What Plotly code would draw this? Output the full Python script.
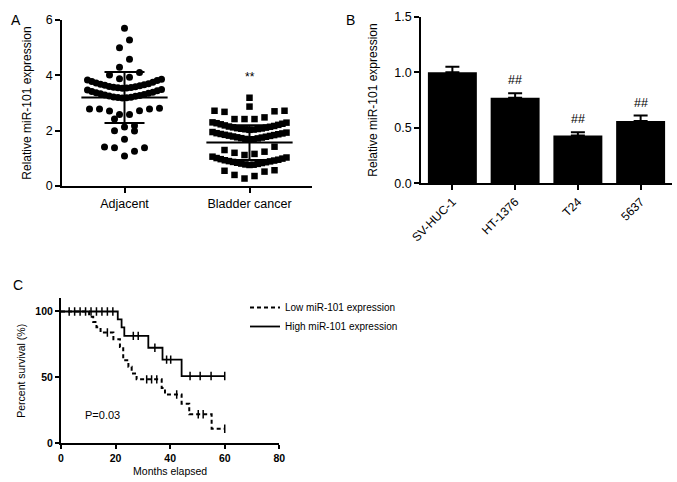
import numpy as np
import plotly.graph_objects as go

# ---------------- data ----------------
groups_A = ["Adjacent", "Bladder cancer"]
adjacent = [5.70, 5.28, 5.00, 4.58, 4.29, 4.10, 4.01, 3.93, 3.88,
            3.53, 3.54, 3.55, 3.56, 3.57, 3.59, 3.60, 3.62, 3.64, 3.66, 3.68, 3.70, 3.72, 3.75, 3.78, 3.81, 3.83, 3.86,
            3.18, 3.19, 3.20, 3.21, 3.22, 3.24, 3.25, 3.27, 3.29, 3.31, 3.33, 3.35, 3.37, 3.39, 3.42, 3.44, 3.47, 3.49,
            2.81, 2.78, 2.78, 2.78, 2.72, 2.71, 2.58, 2.58,
            2.42, 2.18, 2.13, 2.00, 1.99, 1.69,
            1.41, 1.38, 1.38, 1.26, 1.08]
bladder = [3.19, 2.87, 2.72, 2.72, 2.70, 2.68, 2.48, 2.42, 2.42, 2.42,
           2.03, 2.04, 2.05, 2.06, 2.07, 2.08, 2.09, 2.11, 2.12, 2.14, 2.15, 2.17, 2.19, 2.21, 2.23, 2.25, 2.27, 2.29, 2.30,
           1.68, 1.69, 1.70, 1.72, 1.73, 1.75, 1.76, 1.78, 1.79, 1.81, 1.82, 1.84, 1.85, 1.87, 1.88, 1.90, 1.91, 1.93, 1.95,
           1.42, 1.30, 1.24, 1.20, 1.16, 1.12,
           0.76, 0.77, 0.78, 0.80, 0.81, 0.83, 0.84, 0.86, 0.87, 0.89, 0.90, 0.92, 0.93, 0.95, 0.97, 0.99, 1.01, 1.03, 1.06,
           0.57, 0.55, 0.52, 0.40, 0.36, 0.27]
mean_A = [3.20, 1.57]
sd_A = [0.92, 0.63]

cell_lines = ["SV-HUC-1", "HT-1376", "T24", "5637"]
expr_B = [1.00, 0.77, 0.43, 0.56]
sem_B = [0.05, 0.04, 0.03, 0.05]
sig_B = ["", "##", "##", "##"]

low_event_t = [10.3, 11.8, 13.0, 14.5, 19.2, 21.6, 22.8, 24.7, 25.9, 27.7, 36.9, 38.1, 44.2, 47.0, 55.2]
low_event_s = [96, 92, 88, 84, 79, 73, 63, 58, 53, 48.5, 42, 37, 30, 22, 11]
low_censor_t = [17, 31.4, 33.2, 35.1, 42.4, 50.3, 52.1, 60]
high_event_t = [20.8, 22.2, 23.2, 32.0, 37.2, 44.2]
high_event_s = [94, 88, 81.5, 72.5, 63.5, 51]
high_censor_t = [3, 5, 7, 9, 11, 13, 15, 17, 19, 26.5, 28.3, 34.4, 38.7, 40.2, 47.3, 51, 55, 60]
follow_up_end = 60

FONT = "Arial, Liberation Sans, sans-serif"


def swarm_x(center, values, row_h, step, max_half):
    vals = np.asarray(values, float)
    order = np.argsort(vals, kind="stable")
    xs = np.zeros(len(vals))
    rows, cur, start = [], [], None
    for idx in order:
        v = vals[idx]
        if cur and v - start >= row_h:
            rows.append(cur)
            cur = []
        if not cur:
            start = v
        cur.append(idx)
    if cur:
        rows.append(cur)
    for row in rows:
        n = len(row)
        s = step if n < 2 else min(step, 2 * max_half / (n - 1))
        for k, idx in enumerate(row):
            if n % 2:
                off = ((k + 1) // 2) * (1 if k % 2 == 1 else -1)
            else:
                off = (k // 2 + 0.5) * (-1 if k % 2 == 0 else 1)
            xs[idx] = center + off * s
    return xs


def km_path(ev_t, ev_s, end):
    x = [0] + list(ev_t) + [end]
    y = [100] + list(ev_s) + [ev_s[-1]]
    return x, y


def surv_at(t, ev_t, ev_s):
    s = 100
    for et, es in zip(ev_t, ev_s):
        if et <= t:
            s = es
    return s


fig = go.Figure()

# ---------------- Panel A ----------------
fig.add_trace(go.Scatter(x=swarm_x(0, adjacent, 0.34, 0.08, 0.296), y=adjacent, mode="markers",
                         marker=dict(symbol="circle", size=7, color="black"),
                         xaxis="x", yaxis="y", showlegend=False))
fig.add_trace(go.Scatter(x=swarm_x(1, bladder, 0.31, 0.08, 0.296), y=bladder, mode="markers",
                         marker=dict(symbol="square", size=6.5, color="black"),
                         xaxis="x", yaxis="y", showlegend=False))
lx, ly = [], []
for g, (m, sd) in enumerate(zip(mean_A, sd_A)):
    lx += [g - 0.345, g + 0.345, None, g, g, None, g - 0.16, g + 0.16, None, g - 0.16, g + 0.16, None]
    ly += [m, m, None, m - sd, m + sd, None, m + sd, m + sd, None, m - sd, m - sd, None]
fig.add_trace(go.Scatter(x=lx, y=ly, mode="lines", line=dict(color="black", width=2),
                         xaxis="x", yaxis="y", showlegend=False))

# ---------------- Panel B ----------------
fig.add_trace(go.Bar(x=list(range(len(cell_lines))), y=expr_B, width=0.78,
                     marker=dict(color="black", line=dict(width=0)),
                     error_y=dict(type="data", array=sem_B, arrayminus=[0] * len(sem_B), symmetric=False,
                                  color="black", thickness=2, width=7),
                     xaxis="x2", yaxis="y2", showlegend=False))

# ---------------- Panel C ----------------
lxk, lyk = km_path(low_event_t, low_event_s, follow_up_end)
hxk, hyk = km_path(high_event_t, high_event_s, follow_up_end)
fig.add_trace(go.Scatter(x=lxk, y=lyk, mode="lines", line=dict(color="black", width=2, dash="4px,3px", shape="hv"),
                         name="Low miR-101 expression", xaxis="x3", yaxis="y3"))
fig.add_trace(go.Scatter(x=hxk, y=hyk, mode="lines", line=dict(color="black", width=1.8, shape="hv"),
                         name="High miR-101 expression", xaxis="x3", yaxis="y3"))
censor_marker = dict(symbol="line-ns-open", size=6, color="black", line=dict(width=1.5, color="black"))
fig.add_trace(go.Scatter(x=low_censor_t, y=[surv_at(t, low_event_t, low_event_s) for t in low_censor_t],
                         mode="markers", marker=censor_marker, xaxis="x3", yaxis="y3", showlegend=False))
fig.add_trace(go.Scatter(x=high_censor_t, y=[surv_at(t, high_event_t, high_event_s) for t in high_censor_t],
                         mode="markers", marker=censor_marker, xaxis="x3", yaxis="y3", showlegend=False))

W, H = 677, 482
axis_common = dict(showline=True, linecolor="black", linewidth=1.5, ticks="outside", ticklen=5,
                   tickwidth=1.5, tickcolor="black", showgrid=False, zeroline=False, automargin=False,
                   tickfont=dict(family=FONT, size=12.5, color="black"))

fig.update_layout(
    width=W, height=H, margin=dict(l=0, r=0, t=0, b=0),
    paper_bgcolor="white", plot_bgcolor="white",
    font=dict(family=FONT, color="black"),
    xaxis=dict(axis_common, domain=[62 / W, 312 / W], range=[-0.5, 1.5], tickvals=[0, 1], ticktext=groups_A,
               anchor="y"),
    yaxis=dict(axis_common, domain=[1 - 186 / H, 1 - 20 / H], range=[0, 6], tickvals=[0, 2, 4, 6], anchor="x",
               title=dict(text="Relative miR-101 expression", font=dict(family=FONT, size=12), standoff=12)),
    xaxis2=dict(axis_common, domain=[421 / W, 672 / W], range=[-0.5, 3.5], tickangle=-45, anchor="y2",
                tickvals=list(range(len(cell_lines))), ticktext=cell_lines,
                tickfont=dict(family=FONT, size=12, color="black")),
    yaxis2=dict(axis_common, domain=[1 - 183.3 / H, 1 - 16.7 / H], range=[0, 1.5], tickvals=[0, 0.5, 1.0, 1.5],
                tickformat=".1f", anchor="x2",
                title=dict(text="Relative miR-101 expression", font=dict(family=FONT, size=12), standoff=14)),
    xaxis3=dict(axis_common, domain=[61 / W, 279.3 / W], range=[0, 80], tickvals=[0, 20, 40, 60, 80], anchor="y3",
                linewidth=2, tickwidth=2, ticklen=4,
                tickfont=dict(family=FONT, size=10.5, color="black", weight="bold"),
                title=dict(text="Months elapsed", font=dict(family=FONT, size=10.5), standoff=5)),
    yaxis3=dict(axis_common, domain=[1 - 443.3 / H, 1 - 298.3 / H], range=[0, 110], tickvals=[0, 50, 100],
                anchor="x3", linewidth=2, tickwidth=2, ticklen=4,
                tickfont=dict(family=FONT, size=10.5, color="black", weight="bold"),
                title=dict(text="Percent survival (%)", font=dict(family=FONT, size=10.5), standoff=8)),
    legend=dict(x=245 / W, y=1 - 293 / H, xanchor="left", yanchor="top", bgcolor="rgba(0,0,0,0)",
                font=dict(family=FONT, size=10, color="black"), tracegroupgap=0),
)

ann = [
    dict(text="A", x=9 / W, y=1 - 10 / H, xref="paper", yref="paper", showarrow=False, font=dict(size=14)),
    dict(text="B", x=350 / W, y=1 - 10 / H, xref="paper", yref="paper", showarrow=False, font=dict(size=14)),
    dict(text="C", x=11 / W, y=1 - 285 / H, xref="paper", yref="paper", showarrow=False, font=dict(size=14)),
    dict(text="**", x=1, y=4.0, xref="x", yref="y", showarrow=False, yanchor="middle", yshift=-2,
         font=dict(size=12)),
    dict(text="P=0.03", x=8, y=21.4, xref="x3", yref="y3", showarrow=False, xanchor="left",
         font=dict(size=11)),
]
for i, (v, e, s) in enumerate(zip(expr_B, sem_B, sig_B)):
    if s:
        ann.append(dict(text=s, x=i, y=v + e, xref="x2", yref="y2", showarrow=False, yanchor="bottom",
                        yshift=4, font=dict(size=12.5)))
for a in ann:
    a.setdefault("font", {})
    a["font"].update(family=FONT, color="black")
fig.update_layout(annotations=ann)

fig.write_html("out.html", config={"displayModeBar": False},
               post_script="document.body.style.margin='0';")
